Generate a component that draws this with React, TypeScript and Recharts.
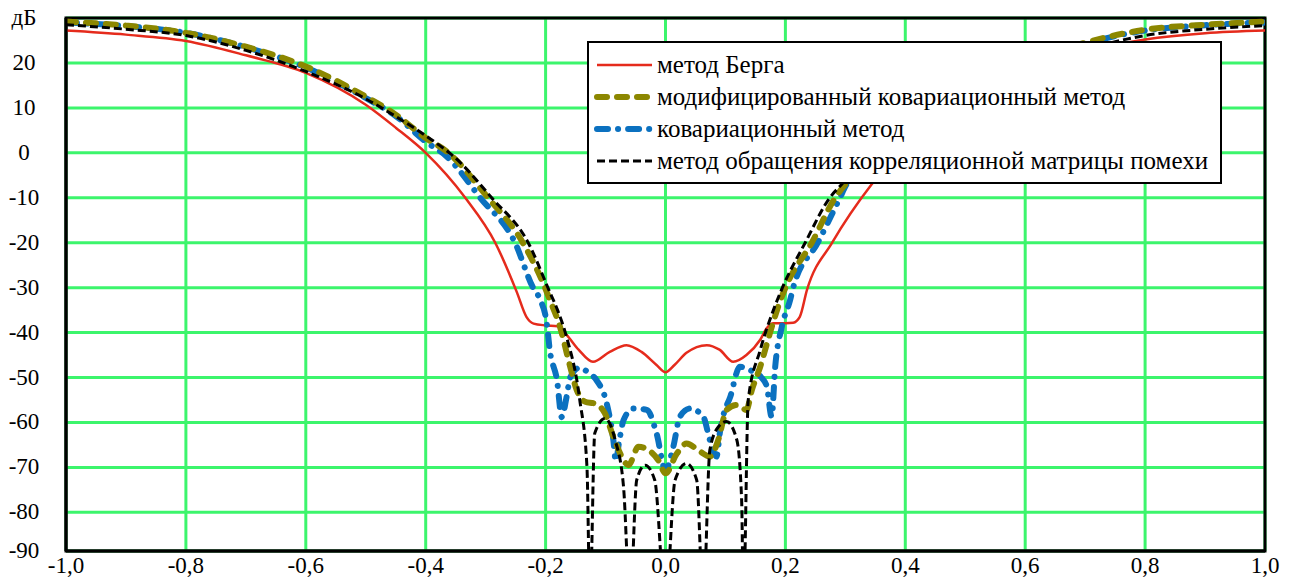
import React from "react";
import { LineChart, Line, XAxis, YAxis, CartesianGrid, ReferenceArea, Legend } from "recharts";

// ---- axis ticks ----
const xTicks = [-1, -0.8, -0.6, -0.4, -0.2, 0, 0.2, 0.4, 0.6, 0.8, 1];
const xTickLabels = ["-1,0", "-0,8", "-0,6", "-0,4", "-0,2", "0,0", "0,2", "0,4", "0,6", "0,8", "1,0"];
const yMin = -88.6;
const yMax = 30;
const yTicks = [yMin, -80, -70, -60, -50, -40, -30, -20, -10, 0, 10, 20, yMax];
const yTickLabels = ["-90", "-80", "-70", "-60", "-50", "-40", "-30", "-20", "-10", "0", "10", "20", "дБ"];

// ---- series: метод Берга ----
const bergX = [-1, -0.9, -0.8, -0.7, -0.6, -0.5, -0.45, -0.4, -0.334, -0.284, -0.248, -0.232, -0.22, -0.2, -0.18, -0.165, -0.145, -0.121, -0.093, -0.065, -0.04, -0.015, 0, 0.015, 0.035, 0.069, 0.09, 0.113, 0.135, 0.158, 0.169, 0.18, 0.2, 0.213, 0.224, 0.236, 0.278, 0.344, 0.4, 0.45, 0.5, 0.6, 0.7, 0.8, 0.9, 1];
const bergY = [27.2, 26.3, 24.9, 21.7, 17.8, 10.7, 5.6, 0, -10, -20, -31, -36.5, -38, -38.4, -38.6, -40.5, -43.8, -46.5, -44.3, -42.8, -44.3, -47.2, -48.8, -47.2, -44.5, -42.8, -43.8, -46.5, -45, -41.6, -39, -37.9, -37.9, -37.8, -36.5, -30.5, -20, -7, 1.5, 6.5, 11.5, 18.3, 22.5, 25.2, 26.6, 27.2];

// ---- series: модифицированный ковариационный метод ----
const modX = [-1, -0.9, -0.8, -0.7, -0.6, -0.5, -0.45, -0.4, -0.365, -0.296, -0.238, -0.201, -0.193, -0.176, -0.159, -0.148, -0.134, -0.118, -0.101, -0.087, -0.073, -0.062, -0.045, -0.029, -0.012, 0, 0.019, 0.035, 0.058, 0.074, 0.088, 0.102, 0.119, 0.135, 0.144, 0.158, 0.174, 0.188, 0.2, 0.244, 0.283, 0.3, 0.4, 0.5, 0.6, 0.7, 0.8, 0.9, 1];
const modY = [29.2, 28.3, 26.7, 23.6, 19.2, 12.5, 8.5, 3.3, 0.3, -10, -20, -30, -32.7, -38.7, -47.6, -52.8, -55.4, -55.8, -58, -63.2, -67.6, -69.5, -65.4, -66.1, -68.4, -71.3, -66.9, -64.7, -66.5, -67.6, -63.9, -57.2, -56.1, -57.2, -52.8, -47.6, -40.2, -34.2, -30, -20, -10, -7, 4, 13, 20, 24.5, 27.4, 28.5, 29.2];

// ---- series: ковариационный метод ----
const covX = [-1, -0.9, -0.8, -0.7, -0.6, -0.5, -0.45, -0.4, -0.365, -0.309, -0.251, -0.221, -0.209, -0.198, -0.193, -0.181, -0.173, -0.165, -0.159, -0.143, -0.128, -0.115, -0.098, -0.087, -0.083, -0.077, -0.07, -0.054, -0.031, -0.015, 0, 0.013, 0.024, 0.041, 0.063, 0.074, 0.085, 0.091, 0.096, 0.108, 0.124, 0.146, 0.16, 0.169, 0.177, 0.183, 0.194, 0.208, 0.213, 0.254, 0.291, 0.302, 0.4, 0.5, 0.6, 0.7, 0.8, 0.9, 1];
const covY = [29, 28.2, 26.7, 23.5, 19, 12.2, 8.2, 2.5, -0.8, -10, -20, -30, -32.7, -38, -43.9, -50.6, -58.8, -54.3, -50, -47.8, -49, -50.6, -55.8, -63.9, -68.5, -64, -59.5, -56.9, -57.2, -62.4, -70.6, -65.4, -58.7, -56.9, -58.7, -63.9, -67.6, -62, -58.7, -54.3, -47.6, -48.7, -50, -52, -58.7, -47.6, -38.7, -32.7, -30, -20, -10, -7, 2.5, 12.5, 19.8, 24.3, 27.2, 28.4, 29];

// ---- series: метод обращения корреляционной матрицы помехи ----
const invX = [-1, -0.9, -0.8, -0.7, -0.6, -0.5, -0.45, -0.4, -0.35, -0.29, -0.229, -0.193, -0.18, -0.165, -0.143, -0.131, -0.126, -0.118, -0.101, -0.084, -0.07, -0.059, -0.048, -0.034, -0.018, 0, 0.016, 0.035, 0.052, 0.063, 0.074, 0.088, 0.102, 0.119, 0.127, 0.13, 0.138, 0.158, 0.18, 0.195, 0.233, 0.274, 0.294, 0.4, 0.5, 0.6, 0.7, 0.8, 0.9, 1];
const invY = [28.5, 27.5, 26.1, 22.8, 18.1, 12, 8.1, 3.8, -1.2, -10, -20, -31, -35, -41, -55, -69.9, -100, -62.4, -59.1, -63.9, -74.3, -100, -72.8, -69.5, -72.8, -100, -72.8, -69.1, -72.8, -100, -66.1, -61, -59.8, -63.9, -77.3, -100, -55, -43.9, -35, -30, -20, -10, -7, 4.5, 12.5, 18.8, 23, 26.1, 27.5, 28.3];

const toData = (xs: number[], ys: number[]) => xs.map((x, i) => ({ x, y: ys[i] }));

const FONT = "'Liberation Serif', 'Times New Roman', serif";

const series = [
  { name: "метод Берга", data: toData(bergX, bergY), color: "#e52b1c", width: 2.5, dash: undefined as string | undefined, cap: "butt" },
  { name: "модифицированный ковариационный метод", data: toData(modX, modY), color: "#8c8700", width: 6, dash: "10 10", cap: "round" },
  { name: "ковариационный метод", data: toData(covX, covY), color: "#0b71c0", width: 6, dash: "11 10 0.1 10", cap: "round" },
  { name: "метод обращения корреляционной матрицы помехи", data: toData(invX, invY), color: "#000000", width: 3, dash: "8 4", cap: "butt" },
];
const drawOrder = [0, 2, 1, 3];

const PLOT_BOTTOM = 551;

const YTick = (props: any) => {
  const { y, payload } = props;
  const idx = yTicks.indexOf(payload.value);
  return (
    <text x={24} y={y + 7} textAnchor="middle" fontFamily={FONT} fontSize={23} fill="#000">
      {yTickLabels[idx]}
    </text>
  );
};

const XTick = (props: any) => {
  const { x, payload } = props;
  const idx = xTicks.indexOf(payload.value);
  return (
    <text x={x} y={PLOT_BOTTOM + 22} textAnchor="middle" fontFamily={FONT} fontSize={23} fill="#000">
      {xTickLabels[idx]}
    </text>
  );
};

const LegendBox = () => (
  <div
    style={{
      width: 635,
      height: 143,
      boxSizing: "border-box",
      border: "2px solid #000",
      background: "#fff",
      paddingTop: 6,
      fontFamily: FONT,
      fontSize: 25,
      color: "#000",
    }}
  >
    {series.map((s) => (
      <div key={s.name} style={{ height: 32, display: "flex", alignItems: "center", whiteSpace: "nowrap" }}>
        <svg width={68} height={32} style={{ flex: "none" }}>
          <line
            x1={8}
            y1={16}
            x2={63}
            y2={16}
            stroke={s.color}
            strokeWidth={s.width}
            strokeDasharray={s.dash}
            strokeLinecap={s.cap as any}
          />
        </svg>
        <span>{s.name}</span>
      </div>
    ))}
  </div>
);

export default function App() {
  return (
    <div style={{ margin: "-8px 0 0 -8px", width: 1295, height: 581 }}>
      <LineChart width={1288} height={581} margin={{ top: 18, right: 23, bottom: 0, left: 0 }}>
        <CartesianGrid stroke="#3cf56c" strokeWidth={3} horizontalValues={yTicks} verticalValues={xTicks} />
        <XAxis
          dataKey="x"
          type="number"
          domain={[-1, 1]}
          ticks={xTicks}
          allowDataOverflow
          height={30}
          axisLine={{ stroke: "#000", strokeWidth: 3 }}
          tickLine={false}
          tick={<XTick />}
          interval={0}
        />
        <YAxis
          type="number"
          domain={[yMin, yMax]}
          ticks={yTicks}
          allowDataOverflow
          width={66}
          axisLine={{ stroke: "#000", strokeWidth: 3 }}
          tickLine={false}
          tick={<YTick />}
          interval={0}
        />
        <ReferenceArea x1={-1} x2={1} y1={yMin} y2={yMax} fill="none" stroke="#000" strokeWidth={3} />
        {drawOrder.map((i) => {
          const s = series[i];
          return (
            <Line
              key={s.name}
              data={s.data}
              dataKey="y"
              name={s.name}
              type="monotone"
              stroke={s.color}
              strokeWidth={s.width}
              strokeDasharray={s.dash}
              strokeLinecap={s.cap as any}
              dot={false}
              activeDot={false}
              isAnimationActive={false}
            />
          );
        })}
        <Legend
          layout="vertical"
          align="center"
          verticalAlign="middle"
          content={<LegendBox />}
          wrapperStyle={{ position: "absolute", left: 587, top: 41, width: 635, height: 143 }}
        />
      </LineChart>
    </div>
  );
}
